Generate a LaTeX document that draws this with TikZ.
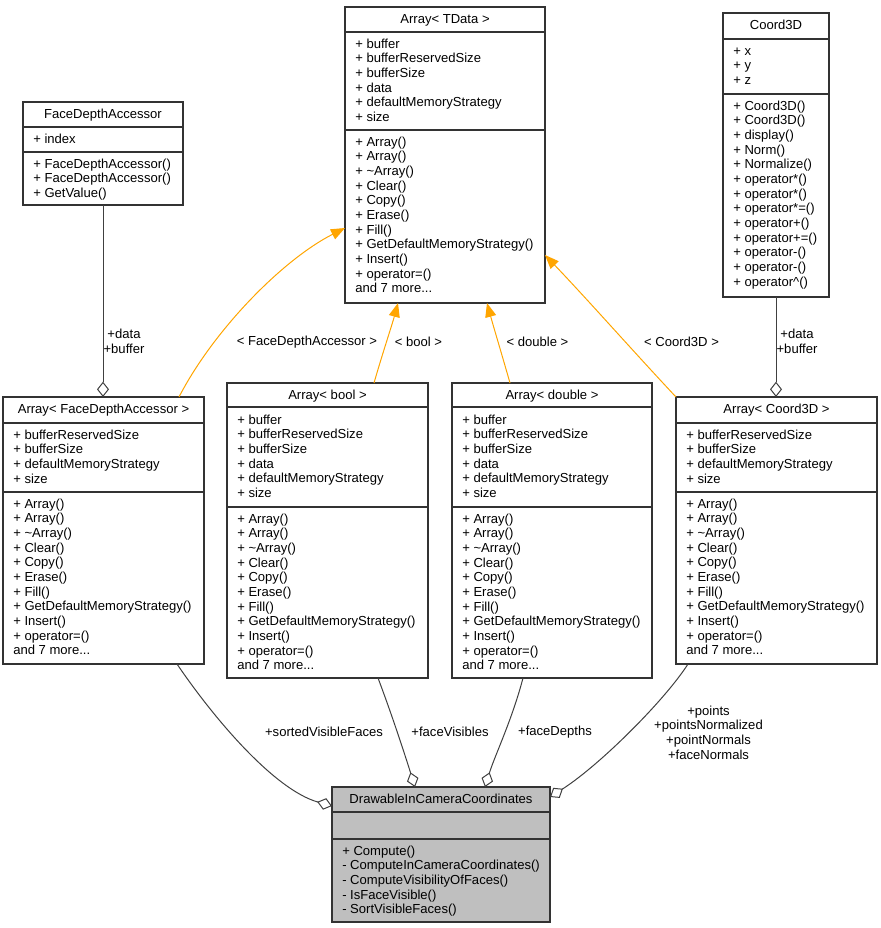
\documentclass[tikz,border=0pt]{standalone}
\usepackage{fontspec}
\setmainfont{Liberation Sans}
\usetikzlibrary{arrows.meta,calc}
\definecolor{boxcol}{HTML}{333333}
\definecolor{edgecol}{HTML}{404040}
\definecolor{tmplcol}{HTML}{FFA500}
\definecolor{dfill}{HTML}{BFBFBF}
\newcommand\andmore{and 7 more...}
\tikzset{
  txt/.style={font=\fontsize{9.8}{11}\selectfont, inner sep=0pt},
  classnode/.style={draw=boxcol, line width=0.9pt, inner sep=0pt, outer sep=0pt},
  sepline/.style={draw=boxcol, line width=0.9pt},
  tmpl/.style={draw=tmplcol, line width=0.75pt, -{Triangle[length=10.5pt,width=8.25pt]}},
  comp/.style={draw=edgecol, line width=0.75pt, -{Diamond[open,length=11.5pt,width=9pt]}},
  lbl/.style={txt, align=center}
}
\newcommand\classbox[8]{%
  \node[classnode, fill=#8, minimum width={(#3-#2)*0.75pt}, minimum height={(#7-#4)*0.75pt}, anchor=north west] (#1) at (#2,#4) {};
  \draw[sepline] (#2,#5) -- (#3,#5);
  \draw[sepline] (#2,#6) -- (#3,#6);
}
\newcommand\ctitle[5]{%
  \node[txt, anchor=base] (#1-t) at ({(#2+#3)/2},{#4+16.5}) {#5};
}
\newcommand\clines[4]{%
  \foreach \s [count=\i] in {#4} {
    \node[txt, anchor=base west] (#1\i) at ({#2},{#3+(\i-1)*14.67}) {\s};
  }
}
\begin{document}
\begin{tikzpicture}[x=0.75pt,y=-0.75pt]
\useasboundingbox (0,0) rectangle (881,928);

% Array< TData >
\classbox{tdata}{345}{545}{7}{32}{130}{303}{white}
\ctitle{tdata}{345}{545}{7}{Array< TData >}
\clines{tdataA}{355}{48}{+ buffer,+ bufferReservedSize,+ bufferSize,+ data,+ defaultMemoryStrategy,+ size}
\clines{tdataM}{355}{146}{+ Array(),+ Array(),+ \textasciitilde Array(),+ Clear(),+ Copy(),+ Erase(),+ Fill(),+ GetDefaultMemoryStrategy(),+ Insert(),+ operator=(),\andmore}

% FaceDepthAccessor
\classbox{fda}{23}{183}{102}{127}{152}{205}{white}
\ctitle{fda}{23}{183}{102}{FaceDepthAccessor}
\clines{fdaA}{33}{143}{+ index}
\clines{fdaM}{33}{168}{+ FaceDepthAccessor(),+ FaceDepthAccessor(),+ GetValue()}

% Coord3D
\classbox{coord}{723}{829}{13}{39}{94}{297}{white}
\ctitle{coord}{723}{829}{13}{Coord3D}
\clines{coordA}{733}{55}{+ x,+ y,+ z}
\clines{coordM}{733}{110}{+ Coord3D(),+ Coord3D(),+ display(),+ Norm(),+ Normalize(),+ operator*(),+ operator*(),+ operator*=(),+ operator+(),+ operator+=(),+ operator-(),+ operator-(),+ operator\textasciicircum()}

% Array< FaceDepthAccessor >
\classbox{afda}{3}{204}{397}{423}{492}{664}{white}
\ctitle{afda}{3}{204}{397}{Array< FaceDepthAccessor >}
\clines{afdaA}{13}{439}{+ bufferReservedSize,+ bufferSize,+ defaultMemoryStrategy,+ size}
\clines{afdaM}{13}{508}{+ Array(),+ Array(),+ \textasciitilde Array(),+ Clear(),+ Copy(),+ Erase(),+ Fill(),+ GetDefaultMemoryStrategy(),+ Insert(),+ operator=(),\andmore}

% Array< bool >
\classbox{abool}{227}{428}{383}{407}{507}{678}{white}
\ctitle{abool}{227}{428}{383}{Array< bool >}
\clines{aboolA}{237}{424}{+ buffer,+ bufferReservedSize,+ bufferSize,+ data,+ defaultMemoryStrategy,+ size}
\clines{aboolM}{237}{523}{+ Array(),+ Array(),+ \textasciitilde Array(),+ Clear(),+ Copy(),+ Erase(),+ Fill(),+ GetDefaultMemoryStrategy(),+ Insert(),+ operator=(),\andmore}

% Array< double >
\classbox{adouble}{452}{652}{383}{407}{507}{678}{white}
\ctitle{adouble}{452}{652}{383}{Array< double >}
\clines{adoubleA}{462}{424}{+ buffer,+ bufferReservedSize,+ bufferSize,+ data,+ defaultMemoryStrategy,+ size}
\clines{adoubleM}{462}{523}{+ Array(),+ Array(),+ \textasciitilde Array(),+ Clear(),+ Copy(),+ Erase(),+ Fill(),+ GetDefaultMemoryStrategy(),+ Insert(),+ operator=(),\andmore}

% Array< Coord3D >
\classbox{acoord}{676}{877}{397}{423}{492}{664}{white}
\ctitle{acoord}{676}{877}{397}{Array< Coord3D >}
\clines{acoordA}{686}{439}{+ bufferReservedSize,+ bufferSize,+ defaultMemoryStrategy,+ size}
\clines{acoordM}{686}{508}{+ Array(),+ Array(),+ \textasciitilde Array(),+ Clear(),+ Copy(),+ Erase(),+ Fill(),+ GetDefaultMemoryStrategy(),+ Insert(),+ operator=(),\andmore}

% DrawableInCameraCoordinates
\classbox{dicc}{332}{550}{787}{812}{839}{922}{dfill}
\ctitle{dicc}{332}{550}{787}{DrawableInCameraCoordinates}
\clines{diccM}{342}{855}{+ Compute(),- ComputeInCameraCoordinates(),- ComputeVisibilityOfFaces(),- IsFaceVisible(),- SortVisibleFaces()}

% template instantiation edges
\draw[tmpl] ($(afda.north west)+(176,0)$) .. controls (213,331) and (282,260) .. ($(tdata.north west)+(0,221)$);
\draw[tmpl] ($(abool.north west)+(147,0)$) .. controls (382,355) and (392,325) .. ($(tdata.south west)+(53,0)$);
\draw[tmpl] ($(adouble.north west)+(58,0)$) .. controls (502,355) and (493,325) .. ($(tdata.south west)+(142,0)$);
\draw[tmpl] (acoord.north west) .. controls (632,350) and (588,300) .. ($(tdata.north east)+(0,248)$);
\node[lbl] (l1) at (307,342) {< FaceDepthAccessor >};
\node[lbl] (l2) at (418.5,342) {< bool >};
\node[lbl] (l3) at (537.5,342) {< double >};
\node[lbl] (l4) at (681.5,342) {< Coord3D >};

% composition edges
\draw[comp] (fda.south) -- ($(afda.north west)+(100,0)$);
\draw[comp] (coord.south) -- ($(acoord.north west)+(100,0)$);
\node[lbl] (l5) at (124,341) {+data\\+buffer};
\node[lbl] (l6) at (797,341) {+data\\+buffer};

\draw[comp] ($(afda.south west)+(174,0)$) .. controls (215,720) and (275,790) .. ($(dicc.north west)+(0,19)$);
\draw[comp] ($(abool.south west)+(151,0)$) .. controls (392,715) and (405,755) .. ($(dicc.north west)+(83,0)$);
\draw[comp] ($(adouble.south west)+(71,0)$) .. controls (512,720) and (495,755) .. ($(dicc.north west)+(153,0)$);
\draw[comp] ($(acoord.south west)+(12,0)$) .. controls (665,700) and (600,765) .. ($(dicc.north east)+(0,10)$);
\node[lbl] (l7) at (324,732) {+sortedVisibleFaces};
\node[lbl] (l8) at (450,732) {+faceVisibles};
\node[lbl] (l9) at (555,732) {+faceDepths};
\node[lbl] (l10) at (708.5,732.5) {+points\\+pointsNormalized\\+pointNormals\\+faceNormals};
\end{tikzpicture}
\end{document}
